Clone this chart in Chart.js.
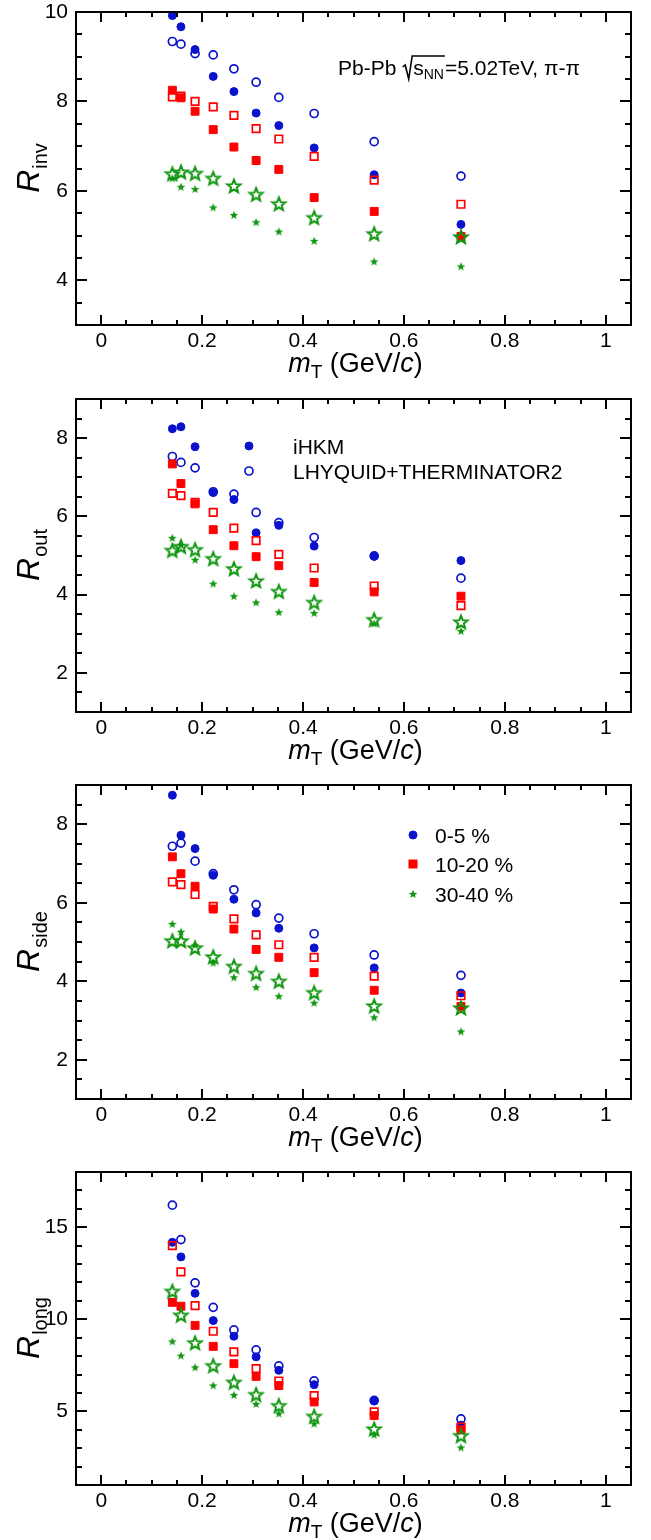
<!DOCTYPE html>
<html><head><meta charset="utf-8">
<script src="https://cdn.jsdelivr.net/npm/chart.js@4.4.0/dist/chart.umd.min.js"></script>
<style>
html,body{margin:0;padding:0;background:#fff;}
canvas{display:block;}
</style></head>
<body>
<canvas id="c0" width="651" height="385"></canvas>
<canvas id="c1" width="651" height="385"></canvas>
<canvas id="c2" width="651" height="385"></canvas>
<canvas id="c3" width="651" height="385"></canvas>
<script>
// ---------------- DATA ----------------
const mT = [0.141, 0.158, 0.186, 0.222, 0.263, 0.307, 0.352, 0.422, 0.541, 0.713];

const xTickValues = [0, 0.2, 0.4, 0.6, 0.8, 1];
const xTickLabels = ['0', '0.2', '0.4', '0.6', '0.8', '1'];

// R_inv
const Rinv_iHKM_0_5   = [9.92, 9.67, 9.16, 8.56, 8.22, 7.74, 7.46, 6.96, 6.36, 5.25];
const Rinv_LHYQ_0_5   = [9.34, 9.28, 9.07, 9.04, 8.73, 8.43, 8.09, 7.73, 7.10, 6.33];
const Rinv_iHKM_10_20 = [8.25, 8.08, 7.78, 7.37, 6.98, 6.68, 6.48, 5.85, 5.54, 4.98];
const Rinv_LHYQ_10_20 = [8.10, 8.12, 8.00, 7.88, 7.69, 7.39, 7.16, 6.77, 6.24, 5.70];
const Rinv_iHKM_30_40 = [6.28, 6.09, 6.04, 5.63, 5.46, 5.30, 5.09, 4.88, 4.42, 4.31];
const Rinv_LHYQ_30_40 = [6.38, 6.42, 6.39, 6.28, 6.11, 5.92, 5.71, 5.40, 5.04, 4.97];
const Rinv_ticks = [4, 6, 8, 10];
const Rinv_tickLabels = ['4', '6', '8', '10'];

// R_out
const Rout_iHKM_0_5   = [8.24, 8.29, 7.78, 6.61, 6.43, 5.58, 5.77, 5.24, 4.98, 4.87];
const Rout_LHYQ_0_5   = [7.53, 7.38, 7.24, 6.63, 6.57, 6.10, 5.84, 5.46, 4.99, 4.42];
const Rout_iHKM_10_20 = [7.34, 6.84, 6.32, 5.66, 5.25, 4.97, 4.74, 4.31, 4.07, 3.96];
const Rout_LHYQ_10_20 = [6.59, 6.53, 6.36, 6.10, 5.70, 5.38, 5.03, 4.68, 4.22, 3.72];
const Rout_iHKM_30_40 = [5.45, 5.27, 4.89, 4.28, 3.96, 3.80, 3.55, 3.53, 3.26, 3.07];
const Rout_LHYQ_30_40 = [5.13, 5.23, 5.15, 4.92, 4.66, 4.35, 4.08, 3.80, 3.36, 3.30];
const Rout_ticks = [2, 4, 6, 8];
const Rout_tickLabels = ['2', '4', '6', '8'];

// R_side
const Rside_iHKM_0_5   = [8.74, 7.72, 7.38, 6.70, 6.09, 5.74, 5.35, 4.85, 4.34, 3.70];
const Rside_LHYQ_0_5   = [7.44, 7.52, 7.06, 6.74, 6.33, 5.95, 5.61, 5.21, 4.67, 4.15];
const Rside_iHKM_10_20 = [7.17, 6.74, 6.42, 5.84, 5.33, 4.81, 4.61, 4.22, 3.77, 3.36];
const Rside_LHYQ_10_20 = [6.53, 6.46, 6.21, 5.91, 5.59, 5.18, 4.93, 4.61, 4.13, 3.63];
const Rside_iHKM_30_40 = [5.46, 5.26, 4.92, 4.47, 4.10, 3.85, 3.62, 3.45, 3.08, 2.72];
const Rside_LHYQ_30_40 = [5.03, 5.03, 4.85, 4.62, 4.38, 4.20, 4.00, 3.71, 3.37, 3.32];
const Rside_ticks = [2, 4, 6, 8];
const Rside_tickLabels = ['2', '4', '6', '8'];

// R_long
const Rlong_iHKM_0_5   = [14.18, 13.39, 11.41, 9.93, 9.08, 7.96, 7.23, 6.45, 5.56, 4.25];
const Rlong_LHYQ_0_5   = [16.20, 14.33, 11.98, 10.65, 9.42, 8.34, 7.47, 6.65, 5.60, 4.59];
const Rlong_iHKM_10_20 = [10.92, 10.71, 9.67, 8.53, 7.59, 6.90, 6.40, 5.51, 4.77, 4.00];
const Rlong_LHYQ_10_20 = [14.00, 12.58, 10.74, 9.35, 8.23, 7.32, 6.65, 5.85, 4.97, 4.15];
const Rlong_iHKM_30_40 = [8.80, 8.03, 7.39, 6.41, 5.89, 5.40, 4.88, 4.33, 3.73, 3.04];
const Rlong_LHYQ_30_40 = [11.52, 10.22, 8.72, 7.48, 6.58, 5.91, 5.31, 4.73, 4.04, 3.68];
const Rlong_ticks = [5, 10, 15];
const Rlong_tickLabels = ['5', '10', '15'];

// ---------------- STYLE ----------------
const BLUE = '#0a12cc', RED = '#ff0000', GREEN = '#129612';
const FONT = '"Liberation Sans", Arial, Helvetica, sans-serif';
Chart.defaults.font.family = FONT;
Chart.defaults.font.size = 21;
Chart.defaults.color = '#000';

function starCanvas(R, r, fill, lw, color) {
  const size = Math.ceil(2 * R + lw + 4);
  const c = document.createElement('canvas');
  c.width = c.height = size;
  const g = c.getContext('2d');
  g.translate(size / 2, size / 2 + R * 0.08);
  g.beginPath();
  for (let i = 0; i < 10; i++) {
    const a = -Math.PI / 2 + i * Math.PI / 5;
    const rad = (i % 2) ? r : R;
    g.lineTo(rad * Math.cos(a), rad * Math.sin(a));
  }
  g.closePath();
  if (fill) { g.fillStyle = color; g.fill(); }
  else { g.strokeStyle = color; g.lineWidth = lw; g.lineJoin = 'miter'; g.stroke(); }
  return c;
}
const bigStar = starCanvas(6.9, 3.0, false, 2.0, GREEN);
const smallStar = starCanvas(4.6, 1.9, true, 0, GREEN);

function pts(vals) { return mT.map((x, i) => ({x: x, y: vals[i]})); }

function makeDatasets(a) {
  return [
    {label: 'LHYQUID 30-40', data: pts(a[5]), pointStyle: bigStar, pointRadius: 5, order: 0},
    {label: 'iHKM 30-40', data: pts(a[4]), pointStyle: smallStar, pointRadius: 3, order: 1},
    {label: 'LHYQUID 10-20', data: pts(a[3]), pointStyle: 'rect', pointRadius: 5.3, borderWidth: 1.7,
      borderColor: RED, backgroundColor: 'rgba(255,255,255,0)', order: 2},
    {label: 'iHKM 10-20', data: pts(a[2]), pointStyle: 'rect', pointRadius: 5.6, borderWidth: 1,
      borderColor: RED, backgroundColor: RED, order: 3},
    {label: 'LHYQUID 0-5', data: pts(a[1]), pointStyle: 'circle', pointRadius: 4, borderWidth: 1.7,
      borderColor: BLUE, backgroundColor: 'rgba(255,255,255,0)', order: 4},
    {label: 'iHKM 0-5', data: pts(a[0]), pointStyle: 'circle', pointRadius: 4, borderWidth: 1,
      borderColor: BLUE, backgroundColor: BLUE, order: 5}
  ].map(d => Object.assign({showLine: false, pointHoverRadius: d.pointRadius}, d));
}

// ---------------- DRAW HELPERS ----------------
function drawFrameTicks(chart, p) {
  const {ctx, chartArea: a} = chart;
  const xs = chart.scales.x, ys = chart.scales.y;
  ctx.save();
  ctx.strokeStyle = '#000';
  ctx.lineWidth = 2;
  ctx.beginPath();
  const nx = Math.round((1.05 + 0.05) / 0.05);
  for (let i = 0; i <= nx; i++) {
    const v = -0.05 + i * 0.05;
    const major = Math.abs(v / 0.2 - Math.round(v / 0.2)) < 1e-6;
    const L = major ? 10 : 5;
    const px = Math.round(xs.getPixelForValue(v));
    if (px <= a.left + 1 || px >= a.right - 1) continue;
    ctx.moveTo(px, a.bottom); ctx.lineTo(px, a.bottom - L);
    ctx.moveTo(px, a.top); ctx.lineTo(px, a.top + L);
  }
  const ny = Math.round((p.yMax - p.yMin) / p.yMinor);
  for (let i = 0; i <= ny; i++) {
    const v = p.yMin + i * p.yMinor;
    const major = p.yTicks.some(t => Math.abs(t - v) < 1e-6);
    const L = major ? 11 : 6;
    const py = Math.round(ys.getPixelForValue(v));
    if (py <= a.top + 1 || py >= a.bottom - 1) continue;
    ctx.moveTo(a.left, py); ctx.lineTo(a.left + L, py);
    ctx.moveTo(a.right, py); ctx.lineTo(a.right - L, py);
  }
  ctx.stroke();
  ctx.strokeRect(a.left, a.top, a.right - a.left, a.bottom - a.top);
  ctx.restore();
}

function drawTitles(chart, p) {
  const {ctx, chartArea: a} = chart;
  ctx.save();
  ctx.fillStyle = '#000';
  ctx.textBaseline = 'alphabetic';
  ctx.textAlign = 'left';
  const fR = 'italic 32px ' + FONT, fS = '20px ' + FONT;
  ctx.font = fR; const wR = ctx.measureText('R').width;
  ctx.font = fS; const wS = ctx.measureText(p.sub).width;
  ctx.translate(39, (a.top + a.bottom) / 2);
  ctx.rotate(-Math.PI / 2);
  const x0 = -(wR + wS) / 2;
  ctx.font = fR; ctx.fillText('R', x0, 0);
  ctx.font = fS; ctx.fillText(p.sub, x0 + wR + 1, 8);
  ctx.setTransform(1, 0, 0, 1, 0, 0);
  const parts = [['m', 'italic 27px ', 0], ['T', '19px ', 6], [' (GeV/', '27px ', 0], ['c', 'italic 27px ', 0], [')', '27px ', 0]];
  let tot = 0;
  parts.forEach(q => { ctx.font = q[1] + FONT; q.push(ctx.measureText(q[0]).width); tot += q[3]; });
  let x = (a.left + a.right) / 2 - tot / 2 + 2;
  const by = a.bottom + 47;
  parts.forEach(q => { ctx.font = q[1] + FONT; ctx.fillText(q[0], x, by + q[2]); x += q[3]; });
  ctx.restore();
}

function drawCircle(ctx, x, y, filled) {
  ctx.beginPath();
  ctx.arc(x, y, 4, 0, Math.PI * 2);
  if (filled) { ctx.fillStyle = BLUE; ctx.fill(); ctx.lineWidth = 1; }
  else ctx.lineWidth = 1.7;
  ctx.strokeStyle = BLUE; ctx.stroke();
}

function drawPanelText(chart, p) {
  const ctx = chart.ctx;
  ctx.save();
  ctx.fillStyle = '#000';
  ctx.textBaseline = 'alphabetic';
  ctx.textAlign = 'left';
  const f = '21px ' + FONT, fsub = '14px ' + FONT;
  if (p.kind === 'energy') {
    let x = 338; const by = 75;
    ctx.font = f;
    ctx.fillText('Pb-Pb ', x, by); x += ctx.measureText('Pb-Pb ').width;
    const ws = ctx.measureText('s').width;
    ctx.font = fsub; const wn = ctx.measureText('NN').width;
    ctx.strokeStyle = '#000'; ctx.lineWidth = 1.6;
    ctx.beginPath();
    ctx.moveTo(x + 0.5, by - 8); ctx.lineTo(x + 3, by - 10);
    ctx.lineTo(x + 6.5, by + 4); ctx.lineTo(x + 10, by - 19);
    ctx.lineTo(x + 11 + ws + wn + 1, by - 19);
    ctx.stroke();
    x += 11;
    ctx.font = f; ctx.fillText('s', x, by); x += ws;
    ctx.font = fsub; ctx.fillText('NN', x, by + 4); x += wn + 1;
    ctx.font = f; ctx.fillText('=5.02TeV, \u03c0-\u03c0', x, by);
  } else if (p.kind === 'models') {
    ctx.font = f;
    drawCircle(ctx, 249, 61, true);
    drawCircle(ctx, 249, 86, false);
    ctx.fillStyle = '#000';
    ctx.fillText('iHKM', 293, 61 + 7.5);
    ctx.fillText('LHYQUID+THERMINATOR2', 293, 86 + 7.5);
  } else if (p.kind === 'cent') {
    ctx.font = f;
    drawCircle(ctx, 413, 65, true);
    ctx.fillStyle = RED; ctx.fillRect(409, 90, 8, 8);
    ctx.strokeStyle = RED; ctx.lineWidth = 1; ctx.strokeRect(409, 90, 8, 8);
    ctx.drawImage(smallStar, 413 - smallStar.width / 2, 124 - smallStar.height / 2);
    ctx.fillStyle = '#000';
    ctx.fillText('0-5 %', 435, 65 + 7.5);
    ctx.fillText('10-20 %', 435, 94 + 7.5);
    ctx.fillText('30-40 %', 435, 124 + 7.5);
  }
  ctx.restore();
}

// ---------------- PANELS ----------------
const panels = [
  {id: 'c0', sub: 'inv', yMin: 3, yMax: 10, yTicks: Rinv_ticks, yLabels: Rinv_tickLabels, yMinor: 0.5, top: 12, xh: 60, kind: 'energy',
    series: [Rinv_iHKM_0_5, Rinv_LHYQ_0_5, Rinv_iHKM_10_20, Rinv_LHYQ_10_20, Rinv_iHKM_30_40, Rinv_LHYQ_30_40]},
  {id: 'c1', sub: 'out', yMin: 1, yMax: 9, yTicks: Rout_ticks, yLabels: Rout_tickLabels, yMinor: 0.5, top: 14, xh: 58, kind: 'models',
    series: [Rout_iHKM_0_5, Rout_LHYQ_0_5, Rout_iHKM_10_20, Rout_LHYQ_10_20, Rout_iHKM_30_40, Rout_LHYQ_30_40]},
  {id: 'c2', sub: 'side', yMin: 1, yMax: 9, yTicks: Rside_ticks, yLabels: Rside_tickLabels, yMinor: 0.5, top: 15, xh: 56, kind: 'cent',
    series: [Rside_iHKM_0_5, Rside_LHYQ_0_5, Rside_iHKM_10_20, Rside_LHYQ_10_20, Rside_iHKM_30_40, Rside_LHYQ_30_40]},
  {id: 'c3', sub: 'long', yMin: 1, yMax: 18, yTicks: Rlong_ticks, yLabels: Rlong_tickLabels, yMinor: 1, top: 17, xh: 55, kind: 'none',
    series: [Rlong_iHKM_0_5, Rlong_LHYQ_0_5, Rlong_iHKM_10_20, Rlong_LHYQ_10_20, Rlong_iHKM_30_40, Rlong_LHYQ_30_40]}
];

function zeroPad(s) { s.paddingTop = 0; s.paddingBottom = 0; s.paddingLeft = 0; s.paddingRight = 0; }

panels.forEach(p => {
  new Chart(document.getElementById(p.id), {
    type: 'scatter',
    data: {datasets: makeDatasets(p.series)},
    options: {
      responsive: false,
      animation: false,
      events: [],
      devicePixelRatio: 1,
      layout: {padding: {left: 0, right: 20, top: p.top, bottom: 0}},
      plugins: {legend: {display: false}, tooltip: {enabled: false}},
      scales: {
        x: {
          type: 'linear', min: -0.05, max: 1.05,
          grid: {display: false, drawTicks: false}, border: {display: false},
          afterBuildTicks: s => { s.ticks = xTickValues.map(v => ({value: v})); },
          afterFit: s => { s.height = p.xh; zeroPad(s); },
          ticks: {autoSkip: false, maxRotation: 0, padding: 4,
            callback: v => { const i = xTickValues.indexOf(v); return i >= 0 ? xTickLabels[i] : ''; }}
        },
        y: {
          type: 'linear', min: p.yMin, max: p.yMax,
          grid: {display: false, drawTicks: false}, border: {display: false},
          afterBuildTicks: s => { s.ticks = p.yTicks.map(v => ({value: v})); },
          afterFit: s => { s.width = 76; zeroPad(s); },
          ticks: {autoSkip: false, padding: 8,
            callback: v => { const i = p.yTicks.indexOf(v); return i >= 0 ? p.yLabels[i] : ''; }}
        }
      }
    },
    plugins: [{
      id: 'deco' + p.id,
      afterDraw: chart => { drawFrameTicks(chart, p); drawTitles(chart, p); drawPanelText(chart, p); }
    }]
  });
});
</script>
</body></html>
